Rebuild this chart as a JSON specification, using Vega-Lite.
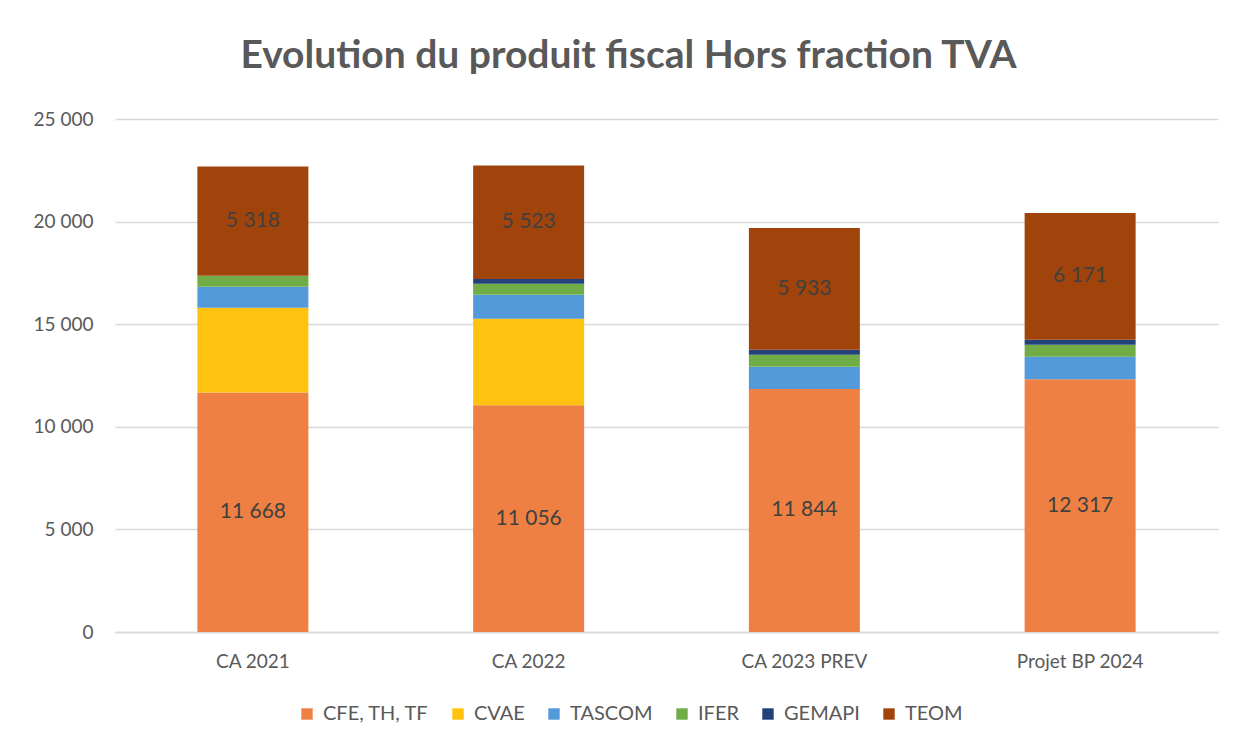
{
  "$schema": "https://vega.github.io/schema/vega-lite/v6.json",
  "width": 1103,
  "height": 513,
  "autosize": {"type": "none"},
  "padding": {"left": 115, "top": 119, "right": 16, "bottom": 115},
  "background": "white",
  "config": {
    "view": {"stroke": null},
    "locale": {"number": {"decimal": ",", "thousands": " ", "grouping": [3], "currency": ["", " €"]}}
  },
  "title": {
    "text": "Evolution du produit fiscal Hors fraction TVA",
    "fontSize": 39,
    "font": "Lato",
    "fontWeight": "bold",
    "color": "#595959",
    "anchor": "middle",
    "dx": -38,
    "offset": 34
  },
  "data": {
    "values": [
      {"annee": "CA 2021", "taxe": "CFE, TH, TF", "ord": 1, "valeur": 11668},
      {"annee": "CA 2021", "taxe": "CVAE", "ord": 2, "valeur": 4137},
      {"annee": "CA 2021", "taxe": "TASCOM", "ord": 3, "valeur": 1024},
      {"annee": "CA 2021", "taxe": "IFER", "ord": 4, "valeur": 537},
      {"annee": "CA 2021", "taxe": "GEMAPI", "ord": 5, "valeur": 0},
      {"annee": "CA 2021", "taxe": "TEOM", "ord": 6, "valeur": 5318},
      {"annee": "CA 2022", "taxe": "CFE, TH, TF", "ord": 1, "valeur": 11056},
      {"annee": "CA 2022", "taxe": "CVAE", "ord": 2, "valeur": 4212},
      {"annee": "CA 2022", "taxe": "TASCOM", "ord": 3, "valeur": 1171},
      {"annee": "CA 2022", "taxe": "IFER", "ord": 4, "valeur": 537},
      {"annee": "CA 2022", "taxe": "GEMAPI", "ord": 5, "valeur": 230},
      {"annee": "CA 2022", "taxe": "TEOM", "ord": 6, "valeur": 5523},
      {"annee": "CA 2023 PREV", "taxe": "CFE, TH, TF", "ord": 1, "valeur": 11844},
      {"annee": "CA 2023 PREV", "taxe": "CVAE", "ord": 2, "valeur": 0},
      {"annee": "CA 2023 PREV", "taxe": "TASCOM", "ord": 3, "valeur": 1083},
      {"annee": "CA 2023 PREV", "taxe": "IFER", "ord": 4, "valeur": 585},
      {"annee": "CA 2023 PREV", "taxe": "GEMAPI", "ord": 5, "valeur": 244},
      {"annee": "CA 2023 PREV", "taxe": "TEOM", "ord": 6, "valeur": 5933},
      {"annee": "Projet BP 2024", "taxe": "CFE, TH, TF", "ord": 1, "valeur": 12317},
      {"annee": "Projet BP 2024", "taxe": "CVAE", "ord": 2, "valeur": 0},
      {"annee": "Projet BP 2024", "taxe": "TASCOM", "ord": 3, "valeur": 1098},
      {"annee": "Projet BP 2024", "taxe": "IFER", "ord": 4, "valeur": 585},
      {"annee": "Projet BP 2024", "taxe": "GEMAPI", "ord": 5, "valeur": 244},
      {"annee": "Projet BP 2024", "taxe": "TEOM", "ord": 6, "valeur": 6171}
    ]
  },
  "encoding": {
    "x": {
      "field": "annee",
      "type": "nominal",
      "sort": null,
      "title": null,
      "axis": {
        "labelAngle": 0,
        "labelFont": "Lato",
        "labelFontSize": 19,
        "labelColor": "#595959",
        "labelPadding": 20,
        "ticks": false,
        "domainColor": "#d9d9d9",
        "domainWidth": 1.5
      }
    },
    "y": {
      "field": "valeur",
      "type": "quantitative",
      "stack": "zero",
      "title": null,
      "scale": {"domain": [0, 25000], "nice": false},
      "axis": {
        "values": [0, 5000, 10000, 15000, 20000, 25000],
        "format": ",.0f",
        "labelFont": "Lato",
        "labelFontSize": 19,
        "labelColor": "#595959",
        "labelPadding": 22,
        "ticks": false,
        "domain": false,
        "gridColor": "#d9d9d9",
        "gridWidth": 1.5
      }
    },
    "order": {"field": "ord", "type": "quantitative"}
  },
  "layer": [
    {
      "mark": {"type": "bar", "size": 111},
      "encoding": {
        "color": {
          "field": "taxe",
          "type": "nominal",
          "sort": ["CFE, TH, TF", "CVAE", "TASCOM", "IFER", "GEMAPI", "TEOM"],
          "scale": {
            "domain": ["CFE, TH, TF", "CVAE", "TASCOM", "IFER", "GEMAPI", "TEOM"],
            "range": ["#EE8043", "#FFC20E", "#529ADA", "#70AD47", "#23427A", "#A0440C"]
          },
          "legend": {
            "title": null,
            "orient": "none",
            "legendX": 182,
            "legendY": 585,
            "direction": "horizontal",
            "symbolType": "square",
            "symbolSize": 130,
            "symbolStrokeWidth": 0,
            "labelFont": "Lato",
            "labelFontSize": 20,
            "labelColor": "#595959",
            "labelOffset": 6,
            "columnPadding": 19
          }
        }
      }
    },
    {
      "mark": {"type": "text", "font": "Lato", "fontSize": 21, "color": "#404040", "baseline": "middle"},
      "encoding": {
        "y": {
          "field": "valeur",
          "type": "quantitative",
          "stack": "zero",
          "bandPosition": 0.5
        },
        "detail": {"field": "taxe", "type": "nominal"},
        "text": {
          "condition": {
            "test": "datum.taxe === 'CFE, TH, TF' || datum.taxe === 'TEOM'",
            "field": "valeur",
            "type": "quantitative",
            "format": ",.0f"
          },
          "value": ""
        }
      }
    }
  ]
}
